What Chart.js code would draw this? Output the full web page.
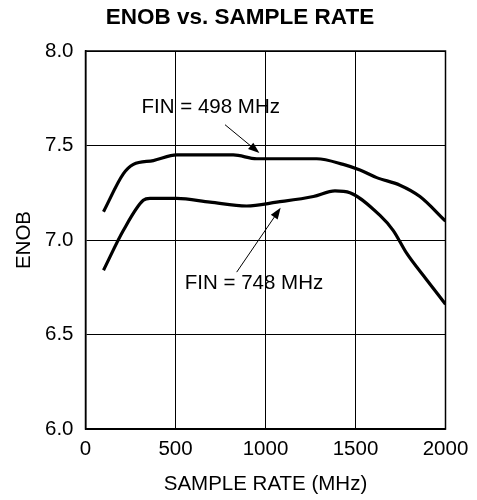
<!DOCTYPE html>
<html>
<head>
<meta charset="utf-8">
<script src="https://cdn.jsdelivr.net/npm/chart.js@4/dist/chart.umd.min.js"></script>
<style>
  html, body { margin: 0; padding: 0; background: #fff; }
  #wrap { width: 477px; height: 500px; }
</style>
</head>
<body>
<div id="wrap"><canvas id="enobChart"></canvas></div>
<script>
// ---------- DATA ----------
const rate498 = [100, 210, 266, 377, 507, 747, 821, 951, 1154, 1284, 1432, 1525, 1618, 1747, 1858, 2000];
const enob498 = [7.15, 7.35, 7.40, 7.42, 7.45, 7.45, 7.45, 7.43, 7.43, 7.43, 7.40, 7.37, 7.33, 7.29, 7.23, 7.10];

const rate748 = [100, 210, 321, 358, 507, 692, 895, 1062, 1266, 1386, 1469, 1636, 1710, 1784, 1895, 2000];
const enob748 = [6.84, 7.05, 7.21, 7.22, 7.22, 7.20, 7.18, 7.20, 7.23, 7.26, 7.25, 7.13, 7.05, 6.93, 6.79, 6.66];

const xTicks = [0, 500, 1000, 1500, 2000];
const yTicks = [6.0, 6.5, 7.0, 7.5, 8.0];

const chartTitle = "ENOB vs. SAMPLE RATE";

// label text, label anchor, arrow tail -> arrow tip (data units)
const notes = [
    { text: "FIN = 498 MHz", at: [696, 7.70], from: [775, 7.61], to: [966, 7.46] },
    { text: "FIN = 748 MHz", at: [936, 6.77], from: [840, 6.83], to: [1084, 7.17] }
];

const FONT = "'Liberation Sans', Arial, Helvetica, sans-serif";
const FS = 20.5;

function toPoints(xs, ys) {
    return xs.map((x, i) => ({ x: x, y: ys[i] }));
}

// ---------- TITLE, ANNOTATIONS, FRAME ----------
const notePlugin = {
    id: "notes",
    afterDatasetsDraw(chart) {
        const ctx = chart.ctx;
        const sx = chart.scales.x, sy = chart.scales.y;
        ctx.save();
        ctx.fillStyle = "#000";
        ctx.strokeStyle = "#000";
        ctx.textAlign = "center";
        ctx.textBaseline = "middle";

        ctx.font = "bold 22.5px " + FONT;
        ctx.fillText(chartTitle, 240, 18);

        ctx.font = FS + "px " + FONT;
        notes.forEach(n => {
            ctx.fillText(n.text, sx.getPixelForValue(n.at[0]), sy.getPixelForValue(n.at[1]));
            const x0 = sx.getPixelForValue(n.from[0]), y0 = sy.getPixelForValue(n.from[1]);
            const x1 = sx.getPixelForValue(n.to[0]), y1 = sy.getPixelForValue(n.to[1]);
            const a = Math.atan2(y1 - y0, x1 - x0);
            ctx.lineWidth = 1;
            ctx.beginPath();
            ctx.moveTo(x0, y0);
            ctx.lineTo(x1 - 6 * Math.cos(a), y1 - 6 * Math.sin(a));
            ctx.stroke();
            // arrow head
            ctx.beginPath();
            ctx.moveTo(x1, y1);
            ctx.lineTo(x1 - 12 * Math.cos(a - 0.35), y1 - 12 * Math.sin(a - 0.35));
            ctx.lineTo(x1 - 12 * Math.cos(a + 0.35), y1 - 12 * Math.sin(a + 0.35));
            ctx.closePath();
            ctx.fill();
        });
        // plot frame
        const ca = chart.chartArea;
        ctx.lineWidth = 1.5;
        ctx.strokeRect(ca.left, ca.top, ca.right - ca.left, ca.bottom - ca.top);
        ctx.restore();
    }
};

// ---------- CHART ----------
new Chart(document.getElementById("enobChart"), {
    type: "line",
    data: {
        datasets: [
            {
                label: "FIN = 498 MHz",
                data: toPoints(rate498, enob498),
                borderColor: "#000",
                borderWidth: 3.2,
                pointRadius: 0,
                cubicInterpolationMode: "monotone",
                fill: false
            },
            {
                label: "FIN = 748 MHz",
                data: toPoints(rate748, enob748),
                borderColor: "#000",
                borderWidth: 3.2,
                pointRadius: 0,
                cubicInterpolationMode: "monotone",
                fill: false
            }
        ]
    },
    options: {
        responsive: true,
        maintainAspectRatio: false,
        animation: false,
        layout: { padding: { left: 0, right: 31.5, top: 51, bottom: 0 } },
        plugins: {
            legend: { display: false },
            tooltip: { enabled: false },
            title: { display: false }
        },
        scales: {
            x: {
                type: "linear",
                min: 0,
                max: 2000,
                afterBuildTicks: s => { s.ticks = xTicks.map(v => ({ value: v })); },
                afterFit: s => { s.height = 71; },
                ticks: {
                    color: "#000",
                    padding: 8.5,
                    maxRotation: 0,
                    font: { family: FONT, size: FS },
                    callback: v => String(v)
                },
                grid: { color: "#000", lineWidth: 1, drawTicks: false },
                border: { color: "#000", width: 1.5 },
                title: {
                    display: true,
                    text: "SAMPLE RATE (MHz)",
                    color: "#000",
                    font: { family: FONT, size: FS },
                    padding: { top: 0, bottom: 3 }
                }
            },
            y: {
                min: 6,
                max: 8,
                afterBuildTicks: s => { s.ticks = yTicks.map(v => ({ value: v })); },
                afterFit: s => { s.width = 85.5; },
                ticks: {
                    color: "#000",
                    padding: 12,
                    font: { family: FONT, size: FS },
                    callback: v => Number(v).toFixed(1)
                },
                grid: { color: "#000", lineWidth: 1, drawTicks: false },
                border: { color: "#000", width: 1.5 },
                title: {
                    display: true,
                    text: "ENOB",
                    color: "#000",
                    font: { family: FONT, size: FS },
                    padding: { top: 11.7, bottom: 0 }
                }
            }
        }
    },
    plugins: [notePlugin]
});
</script>
</body>
</html>
